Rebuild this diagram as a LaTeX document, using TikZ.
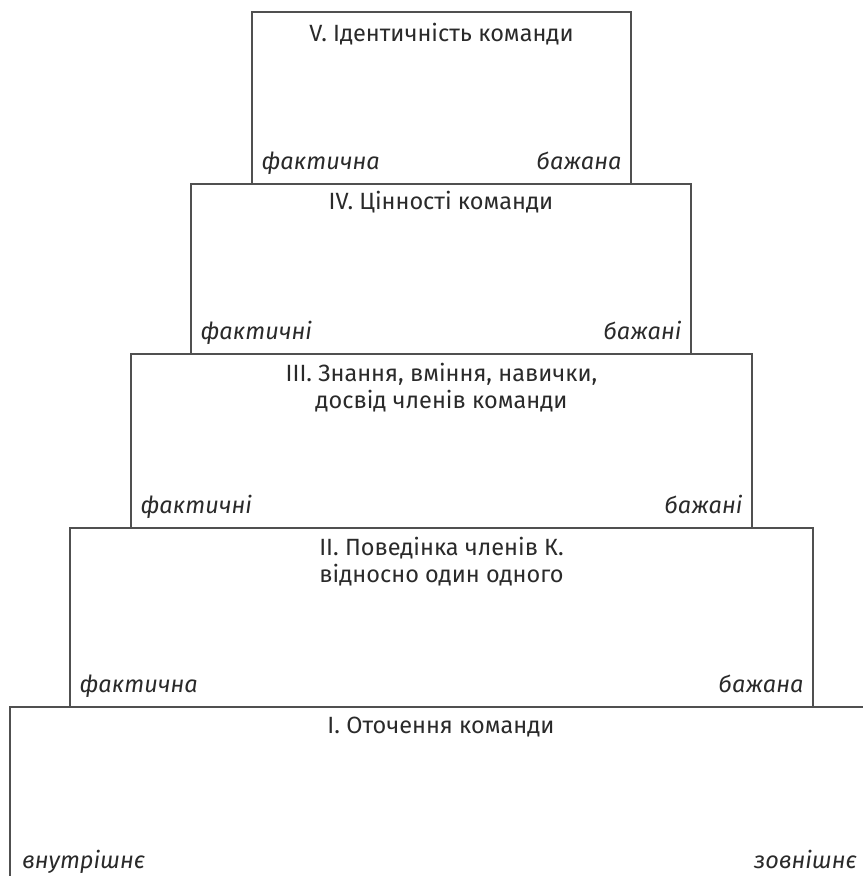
\documentclass[tikz,border=0pt]{standalone}
\usepackage{fontspec}
\setmainfont{Fira Sans}
\definecolor{linec}{HTML}{505050}
\definecolor{textc}{HTML}{2A2A2A}
\begin{document}
\begin{tikzpicture}[x=1pt,y=-1pt,
  box/.style={draw=linec, line width=1.2pt, inner sep=0pt},
  title/.style={font=\fontsize{23.5}{27}\selectfont, text=textc, align=center, anchor=base, inner sep=0pt},
  labl/.style={font=\fontsize{23.5}{27}\selectfont\itshape, text=textc, anchor=base west, inner sep=0pt},
  labr/.style={font=\fontsize{23.5}{27}\selectfont\itshape, text=textc, anchor=base east, inner sep=0pt}]
\useasboundingbox (0,0) rectangle (863,876);
% boxes
\node[box, minimum width=379pt, minimum height=172pt] (b5) at (441.5,98) {};
\node[box, minimum width=500pt, minimum height=170pt] (b4) at (441,269) {};
\node[box, minimum width=621pt, minimum height=174pt] (b3) at (441.5,441) {};
\node[box, minimum width=743pt, minimum height=179pt] (b2) at (441.5,617.5) {};
\coordinate (i1) at (10,876);
\coordinate (i2) at (10,707);
\coordinate (i3) at (863,707);
\draw[draw=linec, line width=1.2pt] (i1) -- (i2) -- (i3);
% titles
\node[title] (t5) at ([yshift=-30pt]b5.north) {V. Ідентичність команди};
\node[title] (t4) at ([yshift=-26pt]b4.north) {IV. Цінності команди};
\node[title] (t3) at ([yshift=-55pt]b3.north) {III. Знання, вміння, навички,\\досвід членів команди};
\node[title] (t2) at ([yshift=-55pt]b2.north) {II. Поведінка членів К.\\відносно один одного};
\node[title] (t1) at (441,733) {I. Оточення команди};
% labels
\node[labl] (l5) at ([xshift=10pt,yshift=15pt]b5.south west) {фактична};
\node[labr] (r5) at ([xshift=-10pt,yshift=15pt]b5.south east) {бажана};
\node[labl] (l4) at ([xshift=10pt,yshift=15pt]b4.south west) {фактичні};
\node[labr] (r4) at ([xshift=-10pt,yshift=15pt]b4.south east) {бажані};
\node[labl] (l3) at ([xshift=10pt,yshift=15pt]b3.south west) {фактичні};
\node[labr] (r3) at ([xshift=-10pt,yshift=15pt]b3.south east) {бажані};
\node[labl] (l2) at ([xshift=10pt,yshift=15pt]b2.south west) {фактична};
\node[labr] (r2) at ([xshift=-10pt,yshift=15pt]b2.south east) {бажана};
\node[labl] (l1) at ([xshift=12pt,yshift=8pt]i1) {внутрішнє};
\node[labr] (r1) at (857,868) {зовнішнє};
\end{tikzpicture}
\end{document}
